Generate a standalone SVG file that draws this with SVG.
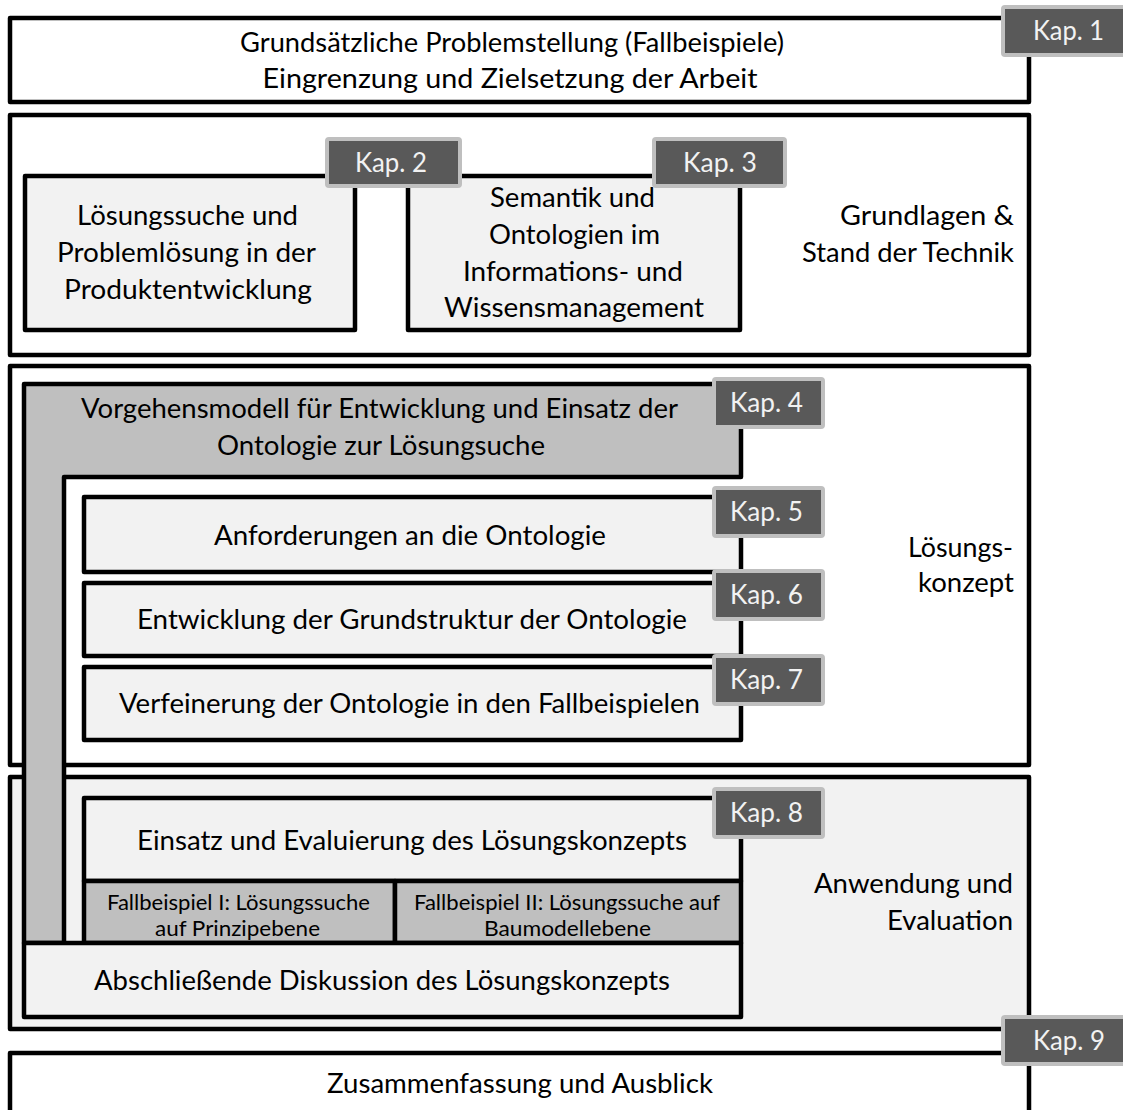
<svg xmlns="http://www.w3.org/2000/svg" width="1123" height="1110" viewBox="0 0 1123 1110">
<style>
  .box{stroke:#000;stroke-width:4.5;stroke-linejoin:round}
  .w{fill:#ffffff}
  .l{fill:#f2f2f2}
  .g{fill:#bfbfbf}
  .tag{fill:#595959;stroke:#bfbfbf;stroke-width:4}
  text{font-family:Lato,"Liberation Sans",sans-serif;fill:#000;font-size:27px}
  .c{text-anchor:middle}
  .r{text-anchor:end}
  .t{fill:#f2f2f2;text-anchor:middle}
  .s{font-size:21px}
</style>
<rect width="1123" height="1110" fill="#ffffff"/>

<g id="kap1">
  <rect class="box w" x="10" y="18" width="1019" height="84"/>
  <text class="c" x="512" y="52" textLength="544" lengthAdjust="spacingAndGlyphs">Grundsätzliche Problemstellung (Fallbeispiele)</text>
  <text class="c" x="510" y="88" textLength="495" lengthAdjust="spacingAndGlyphs">Eingrenzung und Zielsetzung der Arbeit</text>
  <rect class="tag" x="1003" y="7" width="124" height="48" rx="2"/>
  <text class="t" x="1068.5" y="40" textLength="71" lengthAdjust="spacingAndGlyphs">Kap. 1</text>
</g>

<g id="grundlagen">
  <rect class="box w" x="10" y="115" width="1019" height="240"/>
  <text class="r" x="1014" y="225" textLength="174" lengthAdjust="spacingAndGlyphs">Grundlagen &amp;</text>
  <text class="r" x="1014" y="262" textLength="212" lengthAdjust="spacingAndGlyphs">Stand der Technik</text>
</g>

<g id="kap2">
  <rect class="box l" x="25" y="176" width="330" height="154"/>
  <text class="c" x="187.5" y="225" textLength="221" lengthAdjust="spacingAndGlyphs">Lösungssuche und</text>
  <text class="c" x="186.5" y="262" textLength="259" lengthAdjust="spacingAndGlyphs">Problemlösung in der</text>
  <text class="c" x="188" y="299" textLength="248" lengthAdjust="spacingAndGlyphs">Produktentwicklung</text>
</g>

<g id="kap3">
  <rect class="box l" x="408" y="176" width="332" height="154"/>
  <text class="c" x="572.5" y="207" textLength="165" lengthAdjust="spacingAndGlyphs">Semantik und</text>
  <text class="c" x="574.5" y="244" textLength="171" lengthAdjust="spacingAndGlyphs">Ontologien im</text>
  <text class="c" x="573" y="281" textLength="220" lengthAdjust="spacingAndGlyphs">Informations- und</text>
  <text class="c" x="574" y="317" textLength="260" lengthAdjust="spacingAndGlyphs">Wissensmanagement</text>
</g>

<g id="loesungskonzept">
  <rect class="box w" x="10" y="366" width="1019" height="399"/>
  <text class="r" x="1013" y="557" textLength="105" lengthAdjust="spacingAndGlyphs">Lösungs-</text>
  <text class="r" x="1014" y="592" textLength="96" lengthAdjust="spacingAndGlyphs">konzept</text>
</g>

<g id="anwendung">
  <rect class="box l" x="10" y="777" width="1019" height="252"/>
  <text class="r" x="1013" y="893" textLength="199" lengthAdjust="spacingAndGlyphs">Anwendung und</text>
  <text class="r" x="1013" y="930" textLength="126" lengthAdjust="spacingAndGlyphs">Evaluation</text>
</g>

<g id="kap4">
  <polygon class="box g" points="24,384 741,384 741,477 64,477 64,943 24,943"/>
  <text class="c" x="379.5" y="418" textLength="597" lengthAdjust="spacingAndGlyphs">Vorgehensmodell für Entwicklung und Einsatz der</text>
  <text class="c" x="381" y="455" textLength="328" lengthAdjust="spacingAndGlyphs">Ontologie zur Lösungsuche</text>
</g>

<g id="kap5">
  <rect class="box l" x="84" y="497" width="657" height="75"/>
  <text class="c" x="410" y="545" textLength="392" lengthAdjust="spacingAndGlyphs">Anforderungen an die Ontologie</text>
</g>

<g id="kap6">
  <rect class="box l" x="84" y="583" width="657" height="73"/>
  <text class="c" x="412" y="629" textLength="550" lengthAdjust="spacingAndGlyphs">Entwicklung der Grundstruktur der Ontologie</text>
</g>

<g id="kap7">
  <rect class="box l" x="84" y="667" width="657" height="73"/>
  <text class="c" x="409.5" y="713" textLength="581" lengthAdjust="spacingAndGlyphs">Verfeinerung der Ontologie in den Fallbeispielen</text>
</g>

<g id="kap8">
  <rect class="box l" x="84" y="798" width="657" height="83"/>
  <text class="c" x="412" y="850" textLength="550" lengthAdjust="spacingAndGlyphs">Einsatz und Evaluierung des Lösungskonzepts</text>
  <rect class="box g" x="84" y="881" width="311" height="62"/>
  <rect class="box g" x="395" y="881" width="346" height="62"/>
  <text class="c s" x="238.5" y="910" textLength="263" lengthAdjust="spacingAndGlyphs">Fallbeispiel I: Lösungssuche</text>
  <text class="c s" x="237.5" y="936" textLength="165" lengthAdjust="spacingAndGlyphs">auf Prinzipebene</text>
  <text class="c s" x="567" y="910" textLength="306" lengthAdjust="spacingAndGlyphs">Fallbeispiel II: Lösungssuche auf</text>
  <text class="c s" x="567.5" y="936" textLength="167" lengthAdjust="spacingAndGlyphs">Baumodellebene</text>
</g>

<g id="diskussion">
  <rect class="box l" x="24" y="943" width="717" height="74"/>
  <text class="c" x="382" y="990" textLength="576" lengthAdjust="spacingAndGlyphs">Abschließende Diskussion des Lösungskonzepts</text>
</g>

<g id="kap9">
  <rect class="box w" x="10" y="1053" width="1019" height="90"/>
  <text class="c" x="520" y="1093" textLength="386" lengthAdjust="spacingAndGlyphs">Zusammenfassung und Ausblick</text>
</g>

<g id="tags">
  <rect class="tag" x="327" y="139" width="133" height="47" rx="2"/>
  <text class="t" x="391" y="172" textLength="72" lengthAdjust="spacingAndGlyphs">Kap. 2</text>
  <rect class="tag" x="654" y="139" width="131" height="47" rx="2"/>
  <text class="t" x="720" y="172" textLength="74" lengthAdjust="spacingAndGlyphs">Kap. 3</text>
  <rect class="tag" x="714" y="379" width="109" height="48" rx="2"/>
  <text class="t" x="766.5" y="412" textLength="73" lengthAdjust="spacingAndGlyphs">Kap. 4</text>
  <rect class="tag" x="714" y="488" width="109" height="48" rx="2"/>
  <text class="t" x="766.5" y="521" textLength="73" lengthAdjust="spacingAndGlyphs">Kap. 5</text>
  <rect class="tag" x="714" y="571" width="109" height="48" rx="2"/>
  <text class="t" x="766.5" y="604" textLength="73" lengthAdjust="spacingAndGlyphs">Kap. 6</text>
  <rect class="tag" x="714" y="656" width="109" height="48" rx="2"/>
  <text class="t" x="766.5" y="689" textLength="73" lengthAdjust="spacingAndGlyphs">Kap. 7</text>
  <rect class="tag" x="714" y="789" width="109" height="48" rx="2"/>
  <text class="t" x="766.5" y="822" textLength="73" lengthAdjust="spacingAndGlyphs">Kap. 8</text>
  <rect class="tag" x="1003" y="1017" width="124" height="47" rx="2"/>
  <text class="t" x="1069" y="1050" textLength="72" lengthAdjust="spacingAndGlyphs">Kap. 9</text>
</g>

<g id="connectors"/>
</svg>
